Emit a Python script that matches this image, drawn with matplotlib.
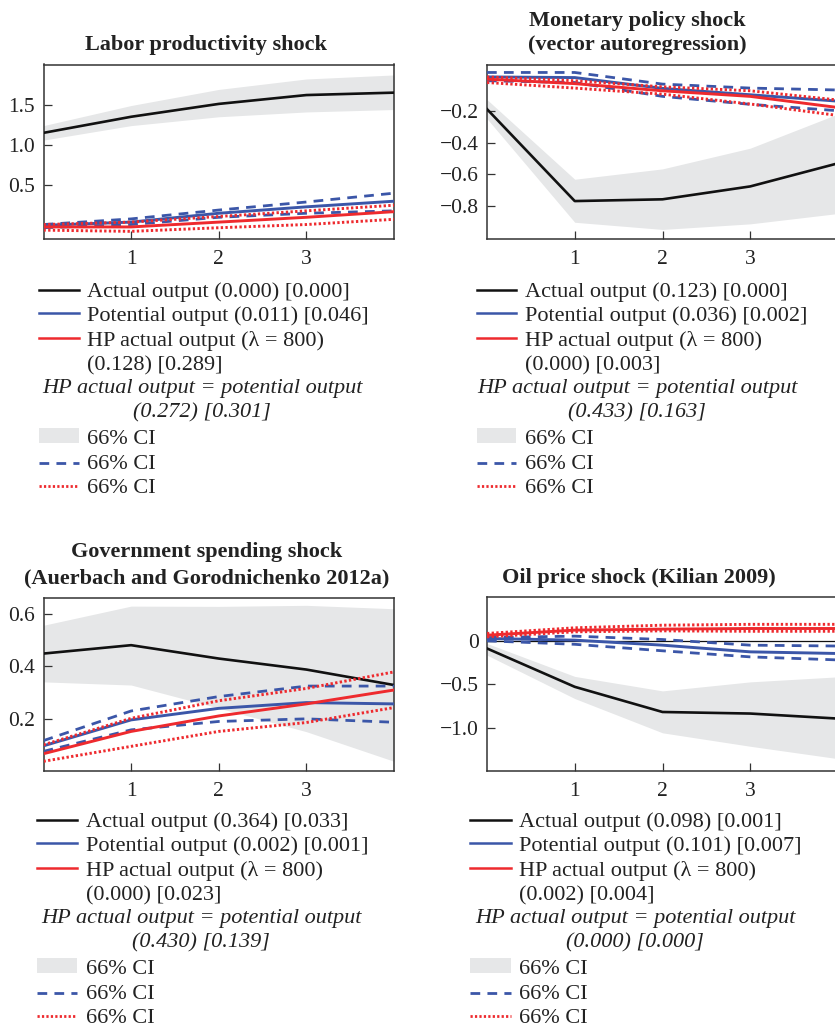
import numpy as np
import matplotlib
matplotlib.use('Agg')
import matplotlib.pyplot as plt
from matplotlib.patches import Rectangle

plt.rcParams['font.family'] = ['Liberation Serif', 'DejaVu Serif']
plt.rcParams['axes.unicode_minus'] = True

W, H = 835, 1030

################################################################################################
# data, horizon 0..4
horizon = [0, 1, 2, 3, 4]

# labor productivity shock
lab_actual = [1.15, 1.35, 1.51, 1.62, 1.65]
lab_actual_lo = [1.06, 1.24, 1.35, 1.41, 1.44]
lab_actual_hi = [1.24, 1.49, 1.69, 1.82, 1.87]
lab_pot = [0.00, 0.04, 0.15, 0.23, 0.30]
lab_pot_lo = [-0.03, 0.01, 0.10, 0.15, 0.18]
lab_pot_hi = [0.01, 0.08, 0.19, 0.29, 0.40]
lab_hp = [-0.02, -0.02, 0.04, 0.10, 0.17]
lab_hp_lo = [-0.06, -0.075, -0.03, 0.01, 0.075]
lab_hp_hi = [0.01, 0.04, 0.11, 0.18, 0.25]

# monetary policy shock
mon_actual = [-0.19, -0.767, -0.756, -0.675, -0.53]
mon_actual_lo = [-0.25, -0.90, -0.945, -0.91, -0.845]
mon_actual_hi = [-0.13, -0.63, -0.565, -0.435, -0.22]
mon_pot = [0.012, 0.008, -0.06, -0.10, -0.14]
mon_pot_lo = [-0.012, -0.023, -0.11, -0.16, -0.20]
mon_pot_hi = [0.04, 0.04, -0.033, -0.058, -0.07]
mon_hp = [-0.002, -0.03, -0.075, -0.11, -0.18]
mon_hp_lo = [-0.023, -0.058, -0.096, -0.158, -0.23]
mon_hp_hi = [0.012, -0.012, -0.05, -0.075, -0.133]

# government spending shock
gov_actual = [0.448, 0.48, 0.429, 0.387, 0.328]
gov_actual_lo = [0.34, 0.328, 0.24, 0.15, 0.037]
gov_actual_hi = [0.556, 0.629, 0.628, 0.632, 0.619]
gov_pot = [0.096, 0.195, 0.239, 0.261, 0.256]
gov_pot_lo = [0.075, 0.157, 0.189, 0.199, 0.186]
gov_pot_hi = [0.116, 0.229, 0.284, 0.324, 0.324]
gov_hp = [0.066, 0.151, 0.21, 0.256, 0.309]
gov_hp_lo = [0.037, 0.094, 0.151, 0.185, 0.242]
gov_hp_hi = [0.10, 0.201, 0.268, 0.315, 0.378]

# oil price shock
oil_actual = [-0.088, -0.53, -0.82, -0.838, -0.896]
oil_actual_lo = [-0.165, -0.665, -1.06, -1.215, -1.358]
oil_actual_hi = [-0.03, -0.41, -0.577, -0.473, -0.415]
oil_pot = [0.027, 0.008, -0.05, -0.127, -0.146]
oil_pot_lo = [0.0, -0.04, -0.115, -0.185, -0.22]
oil_pot_hi = [0.038, 0.054, 0.015, -0.05, -0.06]
oil_hp = [0.065, 0.123, 0.135, 0.142, 0.142]
oil_hp_lo = [0.046, 0.104, 0.115, 0.11, 0.11]
oil_hp_hi = [0.085, 0.15, 0.18, 0.19, 0.19]

titles = [['Labor productivity shock'],
          ['Monetary policy shock', '(vector autoregression)'],
          ['Government spending shock', '(Auerbach and Gorodnichenko 2012a)'],
          ['Oil price shock (Kilian 2009)']]

stats_actual = ['(0.000) [0.000]', '(0.123) [0.000]', '(0.364) [0.033]', '(0.098) [0.001]']
stats_pot = ['(0.011) [0.046]', '(0.036) [0.002]', '(0.002) [0.001]', '(0.101) [0.007]']
stats_hp = ['(0.128) [0.289]', '(0.000) [0.003]', '(0.000) [0.023]', '(0.002) [0.004]']
stats_eq = ['(0.272) [0.301]', '(0.433) [0.163]', '(0.430) [0.139]', '(0.000) [0.000]']

yticks = [[0.5, 1.0, 1.5], [-0.8, -0.6, -0.4, -0.2], [0.2, 0.4, 0.6], [-1.0, -0.5, 0]]
yticklabels = [['0.5', '1.0', '1.5'], ['\u22120.8', '\u22120.6', '\u22120.4', '\u22120.2'],
               ['0.2', '0.4', '0.6'], ['\u22121.0', '\u22120.5', '0']]
ylims = [(-0.17, 2.0), (-1.005, 0.09), (0.0, 0.66), (-1.5, 0.505)]
zero_line = [False, False, False, True]

################################################################################################
BLACK = '#111111'
BLUE = '#3B56A8'
RED = '#EE2A2E'
GRAY = '#E6E7E8'
FS = 16
DASH = (0, (3.5, 2.6))
DOT = (0, (0.8, 0.8))

# axes boxes in pixels: left, top, right, bottom
boxes = [(43.5, 64.5, 394, 239), (487, 64.5, 838, 239),
         (43.5, 598, 394, 771), (487, 597, 838, 771)]
# legend anchors: handle x0, handle x1, text x, italic center, y offset
leg = [(39, 79, 87, 202, 0), (477, 516, 525, 637, 0),
       (37, 77, 86, 201, 530), (470, 511, 519, 635, 530)]
title_cx = [206, 637, 207, 639]
title_base = [[50], [26, 50], [557, 583], [583]]

panels = [
    (lab_actual, lab_actual_lo, lab_actual_hi, lab_pot, lab_pot_lo, lab_pot_hi, lab_hp, lab_hp_lo, lab_hp_hi),
    (mon_actual, mon_actual_lo, mon_actual_hi, mon_pot, mon_pot_lo, mon_pot_hi, mon_hp, mon_hp_lo, mon_hp_hi),
    (gov_actual, gov_actual_lo, gov_actual_hi, gov_pot, gov_pot_lo, gov_pot_hi, gov_hp, gov_hp_lo, gov_hp_hi),
    (oil_actual, oil_actual_lo, oil_actual_hi, oil_pot, oil_pot_lo, oil_pot_hi, oil_hp, oil_hp_lo, oil_hp_hi),
]

fig = plt.figure(figsize=(W / 100, H / 100), dpi=100)

for i, p in enumerate(panels):
    act, act_lo, act_hi, pot, pot_lo, pot_hi, hp, hp_lo, hp_hi = p
    l, t, r, b = boxes[i]
    ax = fig.add_axes([l / W, 1 - b / H, (r - l) / W, (b - t) / H])
    ax.fill_between(horizon, act_lo, act_hi, color=GRAY, lw=0, zorder=1)
    if zero_line[i]:
        ax.axhline(0, color=BLACK, lw=0.9, zorder=2)
    ax.plot(horizon, act, color=BLACK, lw=1.9, zorder=3)
    ax.plot(horizon, pot_lo, color=BLUE, lw=2.0, ls=DASH, zorder=4)
    ax.plot(horizon, pot_hi, color=BLUE, lw=2.0, ls=DASH, zorder=4)
    ax.plot(horizon, pot, color=BLUE, lw=2.1, zorder=5)
    ax.plot(horizon, hp_lo, color=RED, lw=2.1, ls=DOT, zorder=6)
    ax.plot(horizon, hp_hi, color=RED, lw=2.1, ls=DOT, zorder=6)
    ax.plot(horizon, hp, color=RED, lw=2.1, zorder=7)
    ax.set_xlim(0, 4)
    ax.set_ylim(*ylims[i])
    ax.set_xticks([1, 2, 3])
    ax.set_xticklabels(['1', '2', '3'])
    ax.set_yticks(yticks[i])
    ax.set_yticklabels(yticklabels[i])
    ax.tick_params(direction='in', length=5.8, width=0.9, color='#333333',
                   labelsize=15.5, labelcolor='#222222')
    ax.tick_params(axis='x', pad=8)
    ax.tick_params(axis='y', pad=6)
    for s in ax.spines.values():
        s.set_color('#333333')
        s.set_linewidth(1.1)

# overlay in pixel coordinates for titles and legends
ov = fig.add_axes([0, 0, 1, 1])
ov.set_xlim(0, W)
ov.set_ylim(H, 0)
ov.axis('off')

for i in range(4):
    for line, yb in zip(titles[i], title_base[i]):
        ov.text(title_cx[i], yb, line, ha='center', va='baseline', fontsize=FS,
                fontweight='bold', color='#222222')

    hx0, hx1, tx, icx, dy = leg[i]
    rows = [297.5, 321.5, 346, 370]
    ov.plot([hx0, hx1], [290 + dy, 290 + dy], color=BLACK, lw=1.8)
    ov.plot([hx0, hx1], [313 + dy, 313 + dy], color=BLUE, lw=1.8)
    ov.plot([hx0, hx1], [337.5 + dy, 337.5 + dy], color=RED, lw=1.8)
    ov.text(tx, rows[0] + dy, 'Actual output ' + stats_actual[i], va='baseline', fontsize=FS, color='#222222')
    ov.text(tx, rows[1] + dy, 'Potential output ' + stats_pot[i], va='baseline', fontsize=FS, color='#222222')
    ov.text(tx, rows[2] + dy, 'HP actual output (\u03bb = 800)', va='baseline', fontsize=FS, color='#222222')
    ov.text(tx, rows[3] + dy, stats_hp[i], va='baseline', fontsize=FS, color='#222222')
    ov.text(icx, 393.5 + dy, 'HP actual output = potential output', ha='center', va='baseline',
            fontsize=FS, style='italic', color='#222222')
    ov.text(icx, 417.5 + dy, stats_eq[i], ha='center', va='baseline',
            fontsize=FS, style='italic', color='#222222')
    ov.add_patch(Rectangle((hx0, 427.5 + dy), hx1 - hx0, 15.5, color=GRAY, lw=0))
    ov.plot([hx0, hx1], [462.5 + dy, 462.5 + dy], color=BLUE, lw=2.0, ls=DASH)
    ov.plot([hx0, hx1], [486 + dy, 486 + dy], color=RED, lw=2.0, ls=DOT)
    for yb in [444, 469, 493]:
        ov.text(tx, yb + dy, '66% CI', va='baseline', fontsize=FS, color='#222222')

fig.savefig('out.png', dpi=100)
